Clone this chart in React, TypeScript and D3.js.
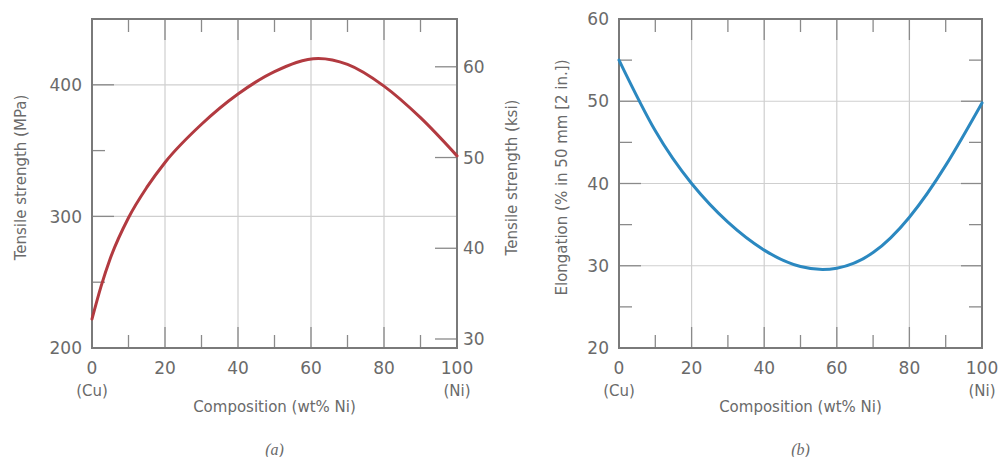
import React from 'react';
import * as d3 from 'd3';

// (a) tensile strength vs composition
const compA = [0, 2.5, 5, 10, 15, 20, 30, 40, 50, 62, 70, 80, 90, 100];
const tensileMPa = [222, 247, 268, 299, 322, 341, 370, 393, 410, 420, 415.5, 399, 375, 346];

// (b) elongation vs composition
const compB = [0, 10, 20, 30, 40, 50, 60, 70, 80, 90, 100];
const elongation = [55, 46.4, 40, 35.3, 31.9, 29.9, 29.7, 31.6, 35.9, 42.2, 49.8];

const xTicks = [0, 10, 20, 30, 40, 50, 60, 70, 80, 90, 100];
const xLabelTicks = [0, 20, 40, 60, 80, 100];
const mpaTicks = [250, 300, 350, 400];
const mpaLabels = [200, 300, 400];
const ksiTicks = [30, 40, 50, 60];
const elongTicks = [25, 30, 35, 40, 45, 50, 55];
const elongLabels = [20, 30, 40, 50, 60];

const KSI_TO_MPA = 6.894757;

const FRAME = '#7a7a7a';
const GRID = '#cfcfcf';
const TICK = '#8a8a8a';
const TEXT = '#6a6a6a';
const FONT = '"DejaVu Sans", sans-serif';

type PanelProps = {
  left: number;
  right: number;
  top: number;
  bottom: number;
  yDomain: [number, number];
  xs: number[];
  ys: number[];
  color: string;
  curve: d3.CurveFactory;
  yTicks: number[];
  yMajor: (v: number) => boolean;
  yLabels: number[];
  yTitle: string;
  yTitleX: number;
  rightTicks: 'ksi' | 'mirror';
  caption: string;
};

function Panel(p: PanelProps) {
  const x = d3.scaleLinear().domain([0, 100]).range([p.left, p.right]);
  const y = d3.scaleLinear().domain(p.yDomain).range([p.bottom, p.top]);
  const line = d3.line<number>()
    .x((_, i) => x(p.xs[i]))
    .y((d) => y(d))
    .curve(p.curve);

  const gridX = xTicks.filter((t) => t % 20 === 0 && t > 0 && t < 100);
  const gridY = p.yTicks.filter(p.yMajor);
  const midY = (p.top + p.bottom) / 2 - 6;

  return (
    <g>
      {/* grid */}
      {gridX.map((t) => (
        <line key={'gx' + t} x1={x(t)} x2={x(t)} y1={p.top} y2={p.bottom} stroke={GRID} strokeWidth={1.2} />
      ))}
      {gridY.map((t) => (
        <line key={'gy' + t} x1={p.left} x2={p.right} y1={y(t)} y2={y(t)} stroke={GRID} strokeWidth={1.2} />
      ))}

      {/* x ticks, top and bottom, inward */}
      {xTicks.filter((t) => t > 0 && t < 100).map((t) => {
        const len = t % 20 === 0 ? 21 : 13;
        return (
          <g key={'xt' + t}>
            <line x1={x(t)} x2={x(t)} y1={p.bottom} y2={p.bottom - len} stroke={TICK} strokeWidth={1.3} />
            <line x1={x(t)} x2={x(t)} y1={p.top} y2={p.top + len} stroke={TICK} strokeWidth={1.3} />
          </g>
        );
      })}

      {/* left y ticks */}
      {p.yTicks.map((t) => {
        const len = p.yMajor(t) ? 22 : 13;
        return (
          <line key={'yt' + t} x1={p.left} x2={p.left + len} y1={y(t)} y2={y(t)} stroke={TICK} strokeWidth={1.3} />
        );
      })}

      {/* right ticks */}
      {p.rightTicks === 'mirror'
        ? p.yTicks.map((t) => {
            const len = p.yMajor(t) ? 21 : 13;
            return (
              <line key={'rt' + t} x1={p.right} x2={p.right - len} y1={y(t)} y2={y(t)} stroke={TICK} strokeWidth={1.3} />
            );
          })
        : ksiTicks.map((t) => (
            <g key={'ks' + t}>
              <line x1={p.right} x2={p.right - 22} y1={y(t * KSI_TO_MPA)} y2={y(t * KSI_TO_MPA)} stroke={TICK} strokeWidth={1.3} />
              <text x={p.right + 6} y={y(t * KSI_TO_MPA)} dy="0.36em" fill={TEXT} fontSize={17} fontFamily={FONT}>
                {t}
              </text>
            </g>
          ))}

      {/* frame */}
      <rect x={p.left} y={p.top} width={p.right - p.left} height={p.bottom - p.top} fill="none" stroke={FRAME} strokeWidth={2} />

      {/* curve */}
      <path d={line(p.ys) ?? ''} fill="none" stroke={p.color} strokeWidth={3} strokeLinecap="round" />

      {/* y labels */}
      {p.yLabels.map((t) => (
        <text key={'yl' + t} x={p.left - 10} y={y(t)} dy="0.36em" textAnchor="end" fill={TEXT} fontSize={17} fontFamily={FONT}>
          {t}
        </text>
      ))}

      {/* x labels */}
      {xLabelTicks.map((t) => (
        <text key={'xl' + t} x={x(t)} y={p.bottom + 20} dy="0.36em" textAnchor="middle" fill={TEXT} fontSize={17} fontFamily={FONT}>
          {t}
        </text>
      ))}
      <text x={x(0)} y={p.bottom + 43} dy="0.36em" textAnchor="middle" fill={TEXT} fontSize={15} fontFamily={FONT}>
        (Cu)
      </text>
      <text x={x(100)} y={p.bottom + 43} dy="0.36em" textAnchor="middle" fill={TEXT} fontSize={15} fontFamily={FONT}>
        (Ni)
      </text>

      {/* axis titles */}
      <text x={(p.left + p.right) / 2} y={p.bottom + 59} dy="0.36em" textAnchor="middle" fill={TEXT} fontSize={15} fontFamily={FONT}>
        Composition (wt% Ni)
      </text>
      <text
        transform={`translate(${p.yTitleX},${midY}) rotate(-90)`}
        textAnchor="middle"
        dy="0.36em"
        fill={TEXT}
        fontSize={15}
        fontFamily={FONT}
      >
        {p.yTitle}
      </text>
      {p.rightTicks === 'ksi' && (
        <text
          transform={`translate(${p.right + 55},${midY}) rotate(-90)`}
          textAnchor="middle"
          dy="0.36em"
          fill={TEXT}
          fontSize={15}
          fontFamily={FONT}
        >
          Tensile strength (ksi)
        </text>
      )}
      <text x={(p.left + p.right) / 2} y={p.bottom + 101} dy="0.36em" textAnchor="middle" fill={TEXT} fontSize={16} fontStyle="italic" fontFamily='"Liberation Serif", serif'>
        {p.caption}
      </text>
    </g>
  );
}

export default function App() {
  return (
    <svg width={1001} height={457} style={{ position: 'absolute', left: 0, top: 0, background: '#fff' }}>
      <rect width={1001} height={457} fill="#fff" />
      <Panel
        left={92}
        right={457}
        top={19}
        bottom={348}
        yDomain={[200, 450]}
        xs={compA}
        ys={tensileMPa}
        color="#b23a40"
        curve={d3.curveMonotoneX}
        yTicks={mpaTicks}
        yMajor={(v) => v % 100 === 0}
        yLabels={mpaLabels}
        yTitle="Tensile strength (MPa)"
        yTitleX={21}
        rightTicks="ksi"
        caption="(a)"
      />
      <Panel
        left={619}
        right={982}
        top={19}
        bottom={348}
        yDomain={[20, 60]}
        xs={compB}
        ys={elongation}
        color="#2b88c0"
        curve={d3.curveNatural}
        yTicks={elongTicks}
        yMajor={(v) => v % 10 === 0}
        yLabels={elongLabels}
        yTitle="Elongation (% in 50 mm [2 in.])"
        yTitleX={562}
        rightTicks="mirror"
        caption="(b)"
      />
    </svg>
  );
}
